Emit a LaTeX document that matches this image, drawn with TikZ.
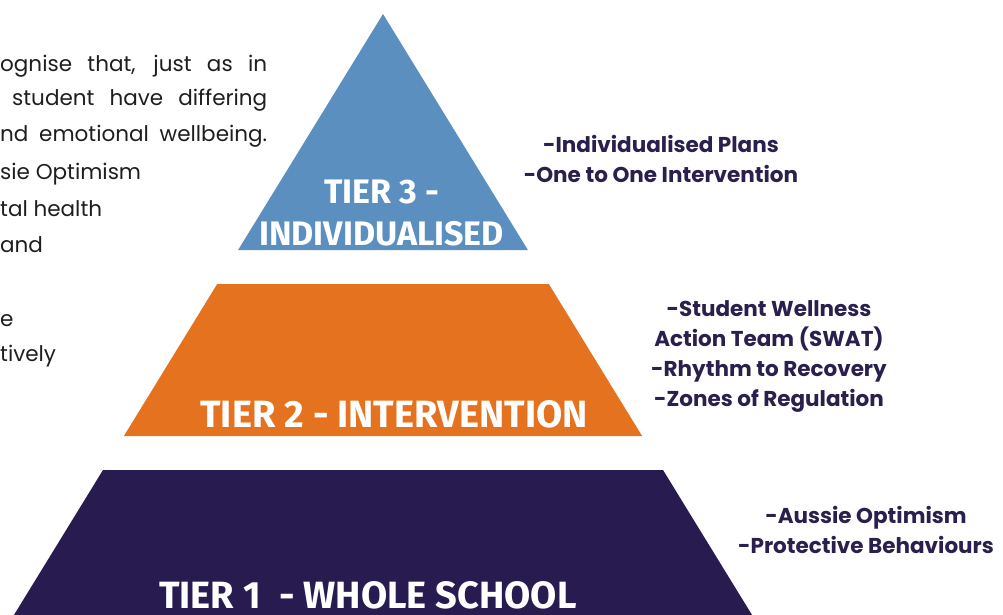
\documentclass[tikz,border=0pt]{standalone}
\usepackage{fontspec}
\setmainfont{Poppins}
\newfontfamily\tierfont{Fira Sans}
\definecolor{tierblue}{HTML}{5B8FBF}
\definecolor{tierorange}{HTML}{E5721F}
\definecolor{tiernavy}{HTML}{281B4F}
\definecolor{listnavy}{HTML}{2B1F4E}
\definecolor{bodygrey}{HTML}{1E1E1E}
\begin{document}
\begin{tikzpicture}[
    x=1pt, y=-1pt,
    tiertitle/.style={inner sep=0pt, anchor=base, text=white, align=center, font=\tierfont\bfseries\fontsize{38}{42}\selectfont},
    tierlist/.style={inner sep=0pt, anchor=base, text=listnavy, align=center, font=\bfseries\fontsize{21.5}{30}\selectfont},
    bodyline/.style={inner sep=0pt, anchor=base west, text=bodygrey, font=\fontsize{21.5}{36}\selectfont},
]
\useasboundingbox (0,0) rectangle (1003,615);
\begin{scope}
\clip (0,0) rectangle (1003,615);

% pyramid bands, all cut from one triangle with apex (383,14)
\fill[tierblue]   (383,14) -- (527.9,250) -- (238.1,250) -- cycle;
\fill[tierorange] (217.2,284) -- (548.8,284) -- (642.1,436) -- (123.9,436) -- cycle;
\fill[tiernavy]   (103,470) -- (663,470) -- (767.4,640) -- (-1.4,640) -- cycle;

% left paragraph
\node[bodyline] (par1) at (0,72)    {\makebox[267pt][s]{ognise that, just as in}};
\node[bodyline] (par2) at (12,106)  {\makebox[255pt][s]{student have differing}};
\node[bodyline] (par3) at (0,142)   {\makebox[267pt][s]{nd emotional wellbeing.}};
\node[bodyline] (par4) at (0,179)   {sie Optimism};
\node[bodyline] (par5) at (0,216)   {tal health};
\node[bodyline] (par6) at (0,252)   {and};
\node[bodyline] (par7) at (0,326)   {e};
\node[bodyline] (par8) at (0,361)   {tively};

% tier titles (base anchor sits on the last line)
\node[tiertitle, font=\tierfont\bfseries\fontsize{34}{42}\selectfont] (tier3) at (381.5,245) {TIER 3 -\\INDIVIDUALISED};
\node[tiertitle] (tier2) at (394,427) {TIER 2 - INTERVENTION};
\node[tiertitle] (tier1) at (368,608) {TIER 1\ \ - WHOLE SCHOOL};

% strategies beside each tier
\node[tierlist] (list3) at (661,182) {-Individualised Plans\\-One to One Intervention};
\node[tierlist] (list2) at (769,406) {-Student Wellness\\Action Team (SWAT)\\-Rhythm to Recovery\\-Zones of Regulation};
\node[tierlist] (list1) at (866,553) {-Aussie Optimism\\-Protective Behaviours};
\end{scope}
\end{tikzpicture}
\end{document}
